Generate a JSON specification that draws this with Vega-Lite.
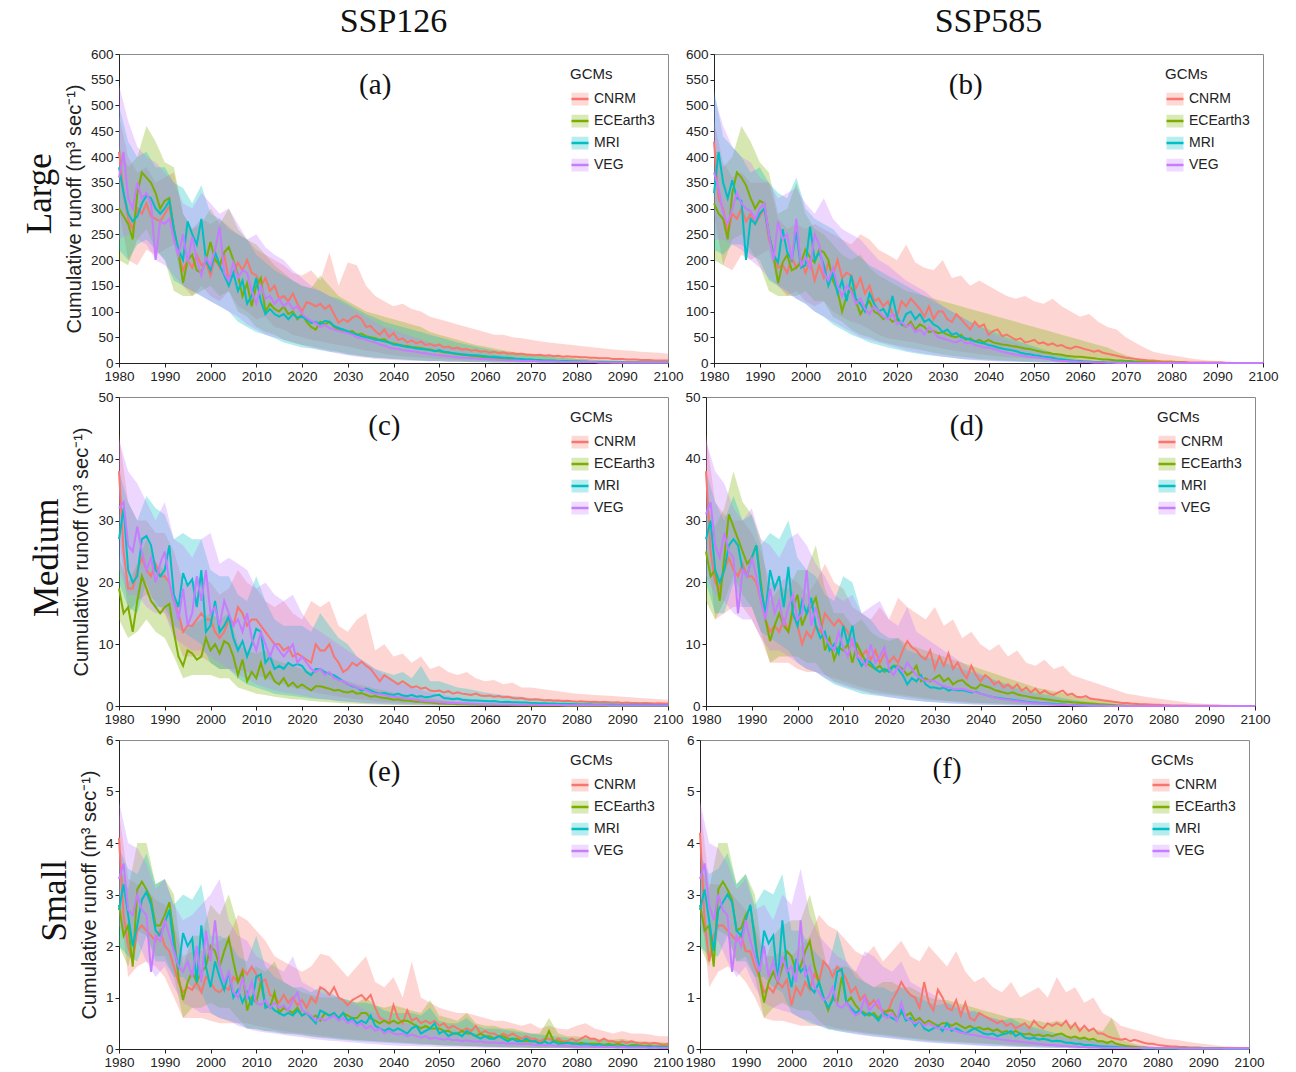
{
"$schema": "https://vega.github.io/schema/vega-lite/v6.json",
"padding": {"left": 22, "top": 4, "right": 4, "bottom": 2},
"datasets": {
"YL": [{"i":1,"y":1980},{"i":2,"y":1981},{"i":3,"y":1982},{"i":4,"y":1983},{"i":5,"y":1984},{"i":6,"y":1985},{"i":7,"y":1986},{"i":8,"y":1987},{"i":9,"y":1988},{"i":10,"y":1989},{"i":11,"y":1990},{"i":12,"y":1991},{"i":13,"y":1992},{"i":14,"y":1993},{"i":15,"y":1994},{"i":16,"y":1995},{"i":17,"y":1996},{"i":18,"y":1997},{"i":19,"y":1998},{"i":20,"y":1999},{"i":21,"y":2000},{"i":22,"y":2001},{"i":23,"y":2002},{"i":24,"y":2003},{"i":25,"y":2004},{"i":26,"y":2005},{"i":27,"y":2006},{"i":28,"y":2007},{"i":29,"y":2008},{"i":30,"y":2009},{"i":31,"y":2010},{"i":32,"y":2011},{"i":33,"y":2012},{"i":34,"y":2013},{"i":35,"y":2014},{"i":36,"y":2015},{"i":37,"y":2016},{"i":38,"y":2017},{"i":39,"y":2018},{"i":40,"y":2019},{"i":41,"y":2020},{"i":42,"y":2021},{"i":43,"y":2022},{"i":44,"y":2023},{"i":45,"y":2024},{"i":46,"y":2025},{"i":47,"y":2026},{"i":48,"y":2027},{"i":49,"y":2028},{"i":50,"y":2029},{"i":51,"y":2030},{"i":52,"y":2031},{"i":53,"y":2032},{"i":54,"y":2033},{"i":55,"y":2034},{"i":56,"y":2035},{"i":57,"y":2036},{"i":58,"y":2037},{"i":59,"y":2038},{"i":60,"y":2039},{"i":61,"y":2040},{"i":62,"y":2041},{"i":63,"y":2042},{"i":64,"y":2043},{"i":65,"y":2044},{"i":66,"y":2045},{"i":67,"y":2046},{"i":68,"y":2047},{"i":69,"y":2048},{"i":70,"y":2049},{"i":71,"y":2050},{"i":72,"y":2051},{"i":73,"y":2052},{"i":74,"y":2053},{"i":75,"y":2054},{"i":76,"y":2055},{"i":77,"y":2056},{"i":78,"y":2057},{"i":79,"y":2058},{"i":80,"y":2059},{"i":81,"y":2060},{"i":82,"y":2061},{"i":83,"y":2062},{"i":84,"y":2063},{"i":85,"y":2064},{"i":86,"y":2065},{"i":87,"y":2066},{"i":88,"y":2067},{"i":89,"y":2068},{"i":90,"y":2069},{"i":91,"y":2070},{"i":92,"y":2071},{"i":93,"y":2072},{"i":94,"y":2073},{"i":95,"y":2074},{"i":96,"y":2075},{"i":97,"y":2076},{"i":98,"y":2077},{"i":99,"y":2078},{"i":100,"y":2079},{"i":101,"y":2080},{"i":102,"y":2081},{"i":103,"y":2082},{"i":104,"y":2083},{"i":105,"y":2084},{"i":106,"y":2085},{"i":107,"y":2086},{"i":108,"y":2087},{"i":109,"y":2088},{"i":110,"y":2089},{"i":111,"y":2090},{"i":112,"y":2091},{"i":113,"y":2092},{"i":114,"y":2093},{"i":115,"y":2094},{"i":116,"y":2095},{"i":117,"y":2096},{"i":118,"y":2097},{"i":119,"y":2098},{"i":120,"y":2099},{"i":121,"y":2100}],
"YB": [{"i":1,"y":1980},{"i":2,"y":1982},{"i":3,"y":1984},{"i":4,"y":1986},{"i":5,"y":1988},{"i":6,"y":1990},{"i":7,"y":1992},{"i":8,"y":1994},{"i":9,"y":1996},{"i":10,"y":1998},{"i":11,"y":2000},{"i":12,"y":2002},{"i":13,"y":2004},{"i":14,"y":2006},{"i":15,"y":2008},{"i":16,"y":2010},{"i":17,"y":2012},{"i":18,"y":2014},{"i":19,"y":2016},{"i":20,"y":2018},{"i":21,"y":2020},{"i":22,"y":2022},{"i":23,"y":2024},{"i":24,"y":2026},{"i":25,"y":2028},{"i":26,"y":2030},{"i":27,"y":2032},{"i":28,"y":2034},{"i":29,"y":2036},{"i":30,"y":2038},{"i":31,"y":2040},{"i":32,"y":2042},{"i":33,"y":2044},{"i":34,"y":2046},{"i":35,"y":2048},{"i":36,"y":2050},{"i":37,"y":2052},{"i":38,"y":2054},{"i":39,"y":2056},{"i":40,"y":2058},{"i":41,"y":2060},{"i":42,"y":2062},{"i":43,"y":2064},{"i":44,"y":2066},{"i":45,"y":2068},{"i":46,"y":2070},{"i":47,"y":2072},{"i":48,"y":2074},{"i":49,"y":2076},{"i":50,"y":2078},{"i":51,"y":2080},{"i":52,"y":2082},{"i":53,"y":2084},{"i":54,"y":2086},{"i":55,"y":2088},{"i":56,"y":2090},{"i":57,"y":2092},{"i":58,"y":2094},{"i":59,"y":2096},{"i":60,"y":2098},{"i":61,"y":2100}],
"L": [
{"p":"a","g":"CNRM","v":[410,330,280,260,300,290,310,285,280,275,290,305,250,210,180,200,185,210,190,195,170,205,185,210,160,175,195,180,200,175,170,150,165,140,150,125,130,120,135,115,100,118,115,110,115,105,112,95,78,85,80,88,92,85,70,72,62,55,65,50,58,45,48,40,44,38,42,35,37,33,36,30,32,28,30,26,27,24,25,22,23,20,22,19,21,18,19,17,18,16,16,15,16,14,15,13,14,12,13,12,12,11,11,10,10,9,9,9,8,8,8,7,7,7,6,6,6,5,5,5,5]},
{"p":"a","g":"ECEarth3","v":[300,285,270,240,330,370,360,350,330,300,315,320,260,215,155,200,210,180,175,200,235,200,190,215,225,200,170,130,155,110,150,165,100,115,105,100,110,95,100,85,95,80,70,65,80,75,80,70,65,63,60,62,55,57,52,50,48,45,46,40,38,36,34,33,31,30,29,27,26,24,23,21,20,19,17,16,15,14,13,12,11,10,10,9,8,8,7,7,6,6,5,5,5,4,4,4,3,3,3,3,3,2,2,2,2,2,2,2,1,1,1,1,1,1,1,1,1,1,1,1,1]},
{"p":"a","g":"MRI","v":[380,330,290,275,285,310,325,320,300,290,300,315,260,220,200,275,250,230,280,200,180,215,190,170,150,175,140,160,115,130,165,120,95,105,95,90,95,85,95,88,90,85,78,80,75,82,80,72,68,65,62,58,55,52,50,48,45,44,42,40,36,35,33,31,30,28,27,26,25,23,25,22,21,19,18,17,16,15,15,14,13,12,12,11,10,10,9,8,8,7,7,6,6,5,5,5,4,4,4,3,3,3,3,2,2,2,2,2,2,2,2,1,1,1,1,1,1,1,1,1,1]},
{"p":"a","g":"VEG","v":[360,410,320,300,350,320,330,310,200,275,270,280,240,210,250,195,245,200,170,205,190,220,265,175,160,195,165,180,175,140,115,150,125,130,115,125,110,118,105,110,95,88,82,78,70,74,68,65,62,60,58,55,50,48,45,42,40,36,34,30,28,27,25,24,23,22,20,19,17,16,15,14,13,12,11,10,10,9,9,8,8,7,7,6,6,5,5,5,4,4,4,4,3,3,3,3,3,2,2,2,2,2,2,2,2,1,1,1,1,1,1,1,1,1,1,1,1,1,1,1,1]},
{"p":"b","g":"CNRM","v":[430,320,300,250,290,280,300,275,290,270,285,300,240,215,185,190,175,205,185,200,175,200,160,190,165,195,170,200,165,175,170,145,165,135,150,120,125,110,120,95,90,120,110,125,115,105,90,110,85,100,100,85,80,95,85,75,65,80,70,75,55,62,65,52,55,50,45,48,40,42,45,38,40,35,38,33,35,30,28,32,30,27,25,22,24,20,18,16,14,12,10,9,8,7,6,5,5,4,3,3,3,2,2,2,1,1,1,1,1,1,1,1,0,0,0,0,0,0,0,0,0]},
{"p":"b","g":"ECEarth3","v":[310,290,280,240,330,370,360,345,320,300,315,310,250,210,155,195,210,180,185,195,220,205,195,220,215,200,160,140,100,130,145,120,95,110,120,100,95,85,90,80,85,75,70,80,65,75,70,60,62,58,60,55,52,50,55,45,48,42,45,40,45,40,38,36,35,33,32,30,28,27,25,23,21,20,18,17,16,14,13,12,12,11,10,9,8,7,7,6,5,5,4,4,3,3,2,2,2,1,1,1,1,1,1,0,0,0,0,0,0,0,0,0,0,0,0,0,0,0,0,0,0]},
{"p":"b","g":"MRI","v":[330,410,350,320,355,320,315,200,280,270,290,300,250,210,195,260,215,200,255,185,190,265,200,215,190,150,175,135,160,120,170,125,115,100,135,115,100,105,90,130,90,75,95,100,85,95,80,85,75,70,60,65,55,58,50,48,45,42,40,38,35,33,30,28,26,25,23,20,18,17,15,14,12,11,10,8,7,6,5,4,4,3,3,2,2,2,1,1,1,1,1,1,1,0,0,0,0,0,0,0,0,0,0,0,0,0,0,0,0,0,0,0,0,0,0,0,0,0,0,0,0]},
{"p":"b","g":"VEG","v":[370,340,290,270,300,330,310,300,295,280,300,310,250,200,275,240,250,200,280,190,205,185,250,230,175,160,185,150,130,150,140,115,125,105,95,110,100,90,85,95,75,80,70,75,60,65,55,70,60,50,48,45,42,40,45,38,40,35,33,30,30,27,25,22,20,18,16,15,13,12,11,10,9,8,6,5,4,4,3,3,2,2,2,1,1,1,1,1,0,0,0,0,0,0,0,0,0,0,0,0,0,0,0,0,0,0,0,0,0,0,0,0,0,0,0,0,0,0,0,0,0]},
{"p":"c","g":"CNRM","v":[38,25,19,19,22,24,22,21,23,21,21,20,17,15,12,13,13,14,15,14,14,12,11,12,14,13,16,15,13,14,14,13,12,11,10,10,9,9.5,8,8.5,8,7.5,7,10,9,9,10,8,7,5.5,6,7,6.5,7.2,6.5,6,5,4,5,4.5,4,3.5,4,3.5,3,3.2,2.8,3,2.5,2.4,2.5,2.2,2.4,2,2.2,2,1.9,1.8,2,1.7,1.6,1.7,1.5,1.6,1.4,1.5,1.3,1.2,1.3,1.1,1,1.1,1,0.9,0.95,0.85,0.9,0.8,0.85,0.75,0.7,0.75,0.7,0.65,0.7,0.6,0.65,0.6,0.55,0.6,0.5,0.55,0.5,0.5,0.45,0.5,0.45,0.4,0.45,0.4,0.4]},
{"p":"c","g":"ECEarth3","v":[19,15,16,12,17,21,19,17,16,15,16,16.5,12,8,6.5,9,8.5,7.5,8,11,9,10,8.5,10.5,10,8,5,7.5,4,5.5,4.5,7,4.5,5.5,4,3.5,4.5,3.2,3.8,3,3.5,3,2.5,3.2,3.2,3,2.8,2.5,2.6,2.3,2.2,2.4,2,2.1,1.8,1.5,1.6,1.4,1.3,1.2,1,1.1,0.9,0.9,0.8,0.7,0.7,0.6,0.55,0.5,0.4,0.4,0.35,0.35,0.3,0.3,0.28,0.25,0.24,0.22,0.2,0.2,0.18,0.17,0.16,0.15,0.14,0.13,0.12,0.11,0.1,0.1,0.09,0.09,0.08,0.08,0.07,0.07,0.06,0.06,0.06,0.05,0.05,0.05,0.05,0.04,0.04,0.04,0.04,0.04,0.03,0.03,0.03,0.03,0.03,0.03,0.03,0.03,0.03,0.03,0.03]},
{"p":"c","g":"MRI","v":[27,32,22,20,21,27,27.5,26,22,21,22,26,18,16,21.5,19.5,20.5,16,22,12,13,17,12,13,14.5,11,9,10.5,8,10,12.5,12,7,8,6,6.5,6,7,6.5,6.8,6.5,5.5,5,6,6,5.5,5.2,5,4.5,4,3.5,3.2,3,2.5,2.8,2.5,2.2,2,2.1,1.9,1.8,2,1.7,1.6,1.8,1.5,1.6,1.4,1.5,1.7,1.8,1.3,1.2,1.1,1.2,1,0.95,0.9,0.9,0.85,0.8,0.75,0.8,0.7,0.65,0.7,0.6,0.6,0.55,0.55,0.5,0.5,0.45,0.45,0.4,0.42,0.38,0.36,0.35,0.33,0.3,0.3,0.28,0.28,0.26,0.26,0.25,0.24,0.23,0.22,0.22,0.21,0.2,0.2,0.2,0.19,0.19,0.18,0.18,0.18,0.17]},
{"p":"c","g":"VEG","v":[32,33,26,25,29,25,22,24,20,23,25,20,17,14,19,13,15,21,17,22,15,16,13,17,15,13,14,12,15,11,9,12,10,8,10,9,8,9,10,7,8,7,6,5.5,6,5,5.5,4.5,4.2,4,3.5,3.3,3,2.8,2.6,2.2,2,1.9,1.8,1.6,1.5,1.4,1.3,1.2,1.1,1,0.9,0.8,0.75,0.7,0.6,0.55,0.5,0.48,0.45,0.42,0.4,0.38,0.35,0.33,0.3,0.28,0.27,0.26,0.25,0.24,0.23,0.22,0.21,0.2,0.2,0.19,0.18,0.17,0.16,0.15,0.15,0.14,0.14,0.13,0.13,0.12,0.12,0.12,0.11,0.11,0.11,0.1,0.1,0.1,0.1,0.1,0.1,0.1,0.1,0.1,0.1,0.1,0.1,0.1,0.1]},
{"p":"d","g":"CNRM","v":[38,25,20,19,22,24,22,21,23,21,21,20,17,14,12,13,12,14,12,15,13,10,12,11,13,12,15,14,13,14,13,12,10,9,8,9,7.5,9,7,8.5,7,8,7,9,10.5,9.5,9,8,7.5,9,6,8,6.5,8.5,6,7,5.5,4.5,6.5,5,4,5,4.5,3.5,4,3,3.5,2.8,3.5,2.5,3,2.2,2.8,2,2.5,2,1.8,2.2,2.5,1.8,2,1.5,1.4,1.6,1.2,1.1,1,0.9,0.8,0.7,0.6,0.5,0.5,0.4,0.35,0.3,0.3,0.25,0.2,0.2,0.15,0.12,0.1,0.1,0.08,0.07,0.06,0.05,0.05,0.04,0.03,0.03,0.03,0.02,0.02,0.02,0.02,0.02,0.02,0.02,0.01]},
{"p":"d","g":"ECEarth3","v":[25,21,22,17,24,31,29,27,25,23,24,26,20,14,10.5,13,15,13,12,16,18,13,15,16,17.5,14,9,11,7.5,9.5,9,10,7,10,8.5,7,6.5,6,6.5,5.5,6,6.5,6.5,6,5,5.5,6.5,4,4.5,4,4.5,5,4,4.5,3.5,4,4.2,3.5,3,2.8,3.5,3.2,3,2.6,2.4,2.2,2,2.2,1.9,1.7,1.6,1.4,1.3,1.2,1.1,1,0.9,0.8,0.7,0.7,0.6,0.55,0.5,0.45,0.4,0.35,0.3,0.25,0.2,0.15,0.1,0.08,0.06,0.05,0.04,0.03,0.02,0.02,0.01,0.01,0,0,0,0,0,0,0,0,0,0,0,0,0,0,0,0,0,0,0,0,0]},
{"p":"d","g":"MRI","v":[27,30,22,20,22,26,27,26,22,21,24,26,19,15,22,19,21,16,22.5,15,13,17,15,17.5,13,11,12,9,10,8.5,13,10,13,8,6.5,7.5,7,6,5.5,6,5.5,6.5,6,5,3.5,4.5,4,5,3.5,3,3,2.8,3,2.5,2.7,2.5,2.6,2.4,2.2,2.3,2,1.8,1.6,1.4,1.3,1.2,1.1,1,0.9,0.8,0.7,0.6,0.55,0.5,0.45,0.4,0.35,0.3,0.25,0.2,0.18,0.15,0.12,0.1,0.08,0.07,0.06,0.05,0.04,0.03,0.02,0.01,0.01,0.01,0,0,0,0,0,0,0,0,0,0,0,0,0,0,0,0,0,0,0,0,0,0,0,0,0,0,0]},
{"p":"d","g":"VEG","v":[31,33,26,24,28,25,24,15,22,21,24,21,17,14,19,15,17,13,16,18,14,15,22,13,16,13,11,10,9,12,9.5,8,11,8,7.5,6.5,10,7,8,9.5,6,5,6.5,5.5,7,6,5,4.5,4,4.2,4,3.5,3.2,3,2.8,2.7,2.8,2.6,2.4,2.2,2,1.8,1.6,1.4,1.2,1.1,1,0.9,0.8,0.7,0.6,0.5,0.45,0.4,0.35,0.3,0.25,0.2,0.18,0.15,0.12,0.1,0.08,0.07,0.06,0.05,0.04,0.03,0.02,0.02,0.01,0.01,0.01,0.01,0.01,0.01,0.01,0.01,0.01,0.01,0.01,0.01,0.01,0.01,0.01,0,0,0,0,0,0,0,0,0,0,0,0,0,0,0,0]},
{"p":"e","g":"CNRM","v":[4.1,2.6,2,1.7,2.3,2.4,2.3,2.2,2.1,2.3,2,1.9,1.6,1.3,1.1,1.2,1.15,1.3,1.1,1.4,1.3,1.15,1.1,1.2,1.15,1.4,1.3,1.55,1.45,1.6,1.45,1.3,1.35,1.05,1,0.9,1.05,0.9,1,0.85,0.95,0.8,1,0.9,1.2,1.15,1.05,1.2,1,0.95,0.85,0.95,1,1.05,0.95,1.05,0.8,0.6,0.55,0.5,0.85,0.6,0.5,0.75,0.55,0.6,0.5,0.55,0.5,0.55,0.45,0.5,0.4,0.45,0.4,0.35,0.4,0.35,0.45,0.3,0.35,0.3,0.3,0.25,0.3,0.25,0.3,0.25,0.2,0.25,0.2,0.2,0.15,0.2,0.2,0.15,0.2,0.15,0.15,0.2,0.15,0.2,0.25,0.2,0.2,0.15,0.2,0.15,0.15,0.12,0.15,0.12,0.15,0.12,0.1,0.12,0.1,0.12,0.1,0.08,0.1]},
{"p":"e","g":"ECEarth3","v":[2.8,2.2,2.4,1.6,3.1,3.25,3.1,2.9,2.4,2.4,2.6,2.85,2.2,1.4,0.95,1.3,1.5,1.3,1.5,1.6,2,1.9,1.6,1.9,2.15,1.7,1.3,1.5,0.75,1,0.9,1.3,0.85,0.8,1.1,0.7,0.8,0.75,0.7,0.8,0.65,0.7,0.6,0.65,0.55,0.7,0.65,0.7,0.6,0.7,0.65,0.6,0.6,0.7,0.7,0.6,0.55,0.5,0.55,0.5,0.55,0.5,0.55,0.55,0.5,0.45,0.4,0.45,0.4,0.4,0.4,0.35,0.35,0.3,0.3,0.35,0.3,0.3,0.25,0.3,0.25,0.25,0.2,0.25,0.25,0.2,0.2,0.2,0.15,0.15,0.15,0.15,0.1,0.15,0.35,0.15,0.15,0.12,0.12,0.12,0.1,0.12,0.1,0.1,0.1,0.1,0.08,0.1,0.08,0.1,0.08,0.05,0.08,0.08,0.06,0.06,0.06,0.05,0.05,0.05,0.05]},
{"p":"e","g":"MRI","v":[2.7,3.2,2.6,2,2.4,2.9,3.05,2.8,2.3,2.2,2.45,2.7,2,1.55,2.25,2,2.15,1.3,2.4,1.6,1.2,1.7,1.4,1.15,1.5,1,1.15,0.9,1.1,0.85,1.4,1.45,0.8,0.85,0.75,0.7,0.65,0.7,0.65,0.75,0.65,0.7,0.6,0.5,0.75,0.7,0.65,0.7,0.6,0.7,0.55,0.6,0.5,0.55,0.5,0.65,0.45,0.4,0.35,0.4,0.35,0.4,0.35,0.3,0.4,0.45,0.3,0.35,0.4,0.5,0.3,0.35,0.25,0.3,0.3,0.25,0.35,0.3,0.25,0.2,0.25,0.2,0.2,0.25,0.2,0.15,0.2,0.15,0.15,0.2,0.15,0.15,0.1,0.15,0.1,0.15,0.1,0.1,0.12,0.1,0.1,0.08,0.1,0.08,0.07,0.08,0.06,0.07,0.06,0.05,0.06,0.05,0.05,0.06,0.05,0.04,0.05,0.04,0.04,0.03,0.04]},
{"p":"e","g":"VEG","v":[3.3,3.6,2.7,2.6,3,2.7,2.6,1.5,2.2,2.1,2.5,2.2,1.9,1.6,1.5,1.7,1.4,2,1.3,2.3,1.7,2.5,1.6,1.3,1.5,1.1,1,1.4,1,1.3,0.9,0.85,0.95,0.8,0.9,0.8,0.85,0.75,0.95,1.1,0.75,0.7,0.65,0.55,0.6,0.55,0.6,0.65,0.55,0.6,0.5,0.55,0.45,0.5,0.4,0.45,0.35,0.4,0.3,0.35,0.3,0.28,0.3,0.25,0.28,0.25,0.22,0.25,0.2,0.22,0.2,0.18,0.2,0.17,0.18,0.15,0.17,0.15,0.14,0.15,0.13,0.12,0.13,0.11,0.12,0.1,0.11,0.1,0.09,0.1,0.09,0.08,0.08,0.07,0.08,0.07,0.06,0.07,0.06,0.06,0.05,0.05,0.06,0.05,0.04,0.05,0.04,0.04,0.04,0.03,0.04,0.03,0.03,0.03,0.03,0.03,0.02,0.03,0.02,0.02,0.02]},
{"p":"f","g":"CNRM","v":[4.2,2.5,1.7,2.2,2.4,2.4,2.3,2.2,2.1,2.2,1.9,1.9,1.6,1.4,1.1,1.2,1.1,1.3,1.2,1.35,0.85,1.2,1.05,1.3,1.15,1.45,1.3,1.7,1.6,1.4,1.6,1.5,1.35,1.1,1.2,0.95,1.05,0.85,0.95,0.8,0.75,0.7,0.95,1.1,1.3,1.15,1.05,1,0.8,1.3,0.9,0.75,1.15,1,0.8,0.75,0.95,0.65,0.9,0.6,0.55,0.7,0.65,0.6,0.55,0.5,0.55,0.45,0.5,0.4,0.45,0.5,0.4,0.55,0.45,0.4,0.5,0.45,0.5,0.45,0.55,0.4,0.5,0.35,0.45,0.35,0.4,0.3,0.3,0.25,0.22,0.2,0.18,0.2,0.15,0.18,0.15,0.12,0.1,0.1,0.08,0.07,0.06,0.05,0.05,0.04,0.04,0.03,0.03,0.03,0.02,0.02,0.02,0.02,0.02,0.02,0.02,0.02,0.02,0.02,0.02]},
{"p":"f","g":"ECEarth3","v":[2.8,2.3,2.4,1.6,3.1,3.25,3.1,2.9,2.3,2.35,2.6,2.75,2.2,1.4,0.9,1.3,1.5,1.3,1.6,1.9,1.8,1.5,1.6,1.9,2.1,1.6,1.3,1,0.75,1,0.9,1.4,0.9,1,0.85,0.75,0.7,0.65,0.7,0.6,0.7,0.75,0.75,0.6,0.7,0.65,0.7,0.55,0.6,0.5,0.55,0.5,0.45,0.5,0.5,0.45,0.5,0.45,0.4,0.45,0.4,0.42,0.38,0.4,0.35,0.38,0.32,0.35,0.3,0.35,0.3,0.28,0.3,0.26,0.28,0.25,0.27,0.25,0.28,0.3,0.25,0.22,0.24,0.2,0.22,0.18,0.2,0.15,0.15,0.12,0.15,0.1,0.08,0.06,0.05,0.04,0.03,0.03,0.02,0.02,0.01,0.01,0.01,0.01,0.01,0.01,0.01,0.01,0.01,0.01,0.01,0.01,0.01,0.01,0.01,0,0,0,0,0,0]},
{"p":"f","g":"MRI","v":[2.7,3.1,2.5,1.9,2.7,2.85,3,2.85,2.3,2.2,2.5,2.8,2.1,1.5,2.3,2.05,2.2,1.3,2.5,1.6,1.2,1.75,1.5,1.6,1.2,1.1,1.3,1,0.8,0.95,1.5,1.55,0.9,0.8,0.7,0.75,0.65,0.7,0.65,0.55,0.7,0.65,0.6,0.55,0.75,0.55,0.6,0.45,0.55,0.4,0.35,0.4,0.45,0.35,0.5,0.35,0.4,0.35,0.3,0.35,0.4,0.35,0.3,0.28,0.3,0.25,0.28,0.3,0.35,0.25,0.3,0.22,0.2,0.22,0.18,0.2,0.18,0.15,0.16,0.15,0.12,0.12,0.1,0.1,0.08,0.08,0.07,0.06,0.05,0.05,0.04,0.04,0.03,0.03,0.02,0.02,0.02,0.01,0.01,0.01,0.01,0.01,0.01,0.01,0.01,0.01,0.01,0.01,0.01,0.01,0.01,0.01,0.01,0.01,0.01,0,0,0,0,0,0]},
{"p":"f","g":"VEG","v":[3.3,3.6,2.8,2.5,3,2.7,2.6,1.5,2.2,2,2.5,2.1,1.8,1.5,2,1.4,1.7,1.3,1.8,1.5,1.6,1.3,2.5,1.4,1.6,1.2,1.1,0.95,1,1.2,0.85,0.8,0.9,0.75,0.65,0.7,1,0.75,0.85,0.95,0.65,0.6,0.7,0.55,0.9,0.6,0.55,0.5,0.55,0.45,0.5,0.45,0.4,0.42,0.38,0.4,0.35,0.32,0.3,0.28,0.27,0.25,0.24,0.22,0.2,0.2,0.18,0.17,0.16,0.15,0.14,0.13,0.12,0.11,0.1,0.09,0.08,0.08,0.07,0.06,0.06,0.05,0.05,0.04,0.04,0.03,0.03,0.03,0.02,0.02,0.02,0.02,0.02,0.02,0.02,0.02,0.02,0.02,0.02,0.02,0.02,0.02,0.02,0.02,0.02,0.01,0.01,0.01,0.01,0.01,0.01,0.01,0.01,0.01,0.01,0.01,0.01,0.01,0.01,0.01,0.01]}
],
"B": [
{"p":"a","g":"CNRM","l":[300,200,190,220,210,220,230,150,130,150,130,120,140,110,100,85,90,70,65,55,50,45,42,38,35,32,28,24,22,18,15,13,12,10,9,8,7,6,5,5,4,4,3,3,3,2,2,2,2,1,1,1,1,1,1,1,1,1,1,0,0],"h":[480,400,370,380,350,360,370,290,260,280,270,280,265,250,240,220,210,200,190,175,170,180,160,215,150,195,190,150,130,120,110,115,105,100,90,85,80,75,70,65,60,55,55,50,48,45,42,40,38,36,34,32,30,28,26,25,24,22,21,20,18]},
{"p":"a","g":"ECEarth3","l":[200,190,240,260,220,200,140,130,130,140,150,130,140,100,90,70,60,55,45,40,35,32,28,25,22,18,15,12,10,9,8,7,6,5,4,4,3,3,2,2,2,1,1,1,1,1,1,0,0,0,0,0,0,0,0,0,0,0,0,0,0],"h":[420,380,400,460,430,390,380,290,260,270,300,270,300,260,240,230,210,190,175,160,150,145,170,150,130,120,110,100,95,90,85,80,75,70,60,55,50,45,40,35,32,28,25,22,20,18,16,14,12,10,9,8,7,6,5,5,4,4,3,3,3]},
{"p":"a","g":"MRI","l":[220,200,230,240,220,200,160,150,140,130,120,110,100,80,70,60,55,48,40,35,30,28,25,22,20,16,14,12,10,9,8,7,6,5,4,4,3,3,2,2,2,1,1,1,1,1,1,0,0,0,0,0,0,0,0,0,0,0,0,0,0],"h":[500,430,400,410,380,380,350,340,310,345,290,280,260,250,240,210,195,180,170,160,150,145,140,130,125,115,105,95,88,80,75,70,65,60,55,50,45,40,36,32,28,25,22,20,18,16,14,12,10,9,8,7,6,5,5,4,4,3,3,3,2]},
{"p":"a","g":"VEG","l":[240,250,240,230,200,190,170,150,140,130,120,110,100,90,75,65,55,50,45,40,35,30,26,22,18,15,12,10,8,7,6,5,4,4,3,3,2,2,2,1,1,1,1,1,0,0,0,0,0,0,0,0,0,0,0,0,0,0,0,0,0],"h":[540,470,420,400,390,370,350,310,300,330,310,290,300,270,240,250,225,210,200,180,165,150,140,130,120,110,100,90,80,70,65,58,52,46,40,36,32,28,24,20,18,16,14,12,10,9,8,7,6,5,5,4,4,3,3,3,2,2,2,2,2]},
{"p":"b","g":"CNRM","l":[290,190,180,210,200,210,220,150,130,140,120,110,120,100,90,80,75,65,55,48,45,42,40,35,32,28,25,22,20,17,15,13,11,10,9,8,7,6,5,4,3,3,2,2,1,1,1,0,0,0,0,0,0,0,0,0,0,0,0,0,0],"h":[470,390,360,370,350,350,350,280,260,270,260,270,260,250,240,230,250,240,220,210,200,230,195,185,180,200,165,170,150,160,150,140,130,125,130,120,115,125,110,100,90,95,80,70,65,50,40,30,22,18,15,12,9,7,5,4,3,2,1,1,1]},
{"p":"b","g":"ECEarth3","l":[200,190,240,250,220,190,140,130,130,130,140,120,120,90,80,65,55,50,42,38,34,30,27,24,20,17,14,12,10,8,7,6,5,4,3,3,2,2,1,1,1,1,0,0,0,0,0,0,0,0,0,0,0,0,0,0,0,0,0,0,0],"h":[420,380,400,460,430,390,370,290,300,350,290,260,250,230,210,200,210,185,170,160,150,140,135,130,125,120,115,110,105,100,95,90,85,80,75,70,65,60,55,50,45,40,35,30,22,15,10,6,4,2,1,1,0,0,0,0,0,0,0,0,0]},
{"p":"b","g":"MRI","l":[220,210,230,230,210,200,160,150,140,125,115,100,90,75,65,55,48,40,35,30,26,22,19,16,14,12,10,8,7,6,5,4,3,3,2,2,1,1,1,0,0,0,0,0,0,0,0,0,0,0,0,0,0,0,0,0,0,0,0,0,0],"h":[530,440,420,400,370,380,350,330,320,360,300,280,270,260,240,220,205,190,180,170,160,150,140,130,120,110,100,90,80,72,65,58,50,44,38,32,26,20,15,10,7,5,3,2,1,1,0,0,0,0,0,0,0,0,0,0,0,0,0,0,0]},
{"p":"b","g":"VEG","l":[240,240,230,220,200,185,165,150,135,125,115,100,90,80,70,60,50,45,40,35,30,25,21,18,15,12,10,8,6,5,4,3,3,2,2,1,1,1,0,0,0,0,0,0,0,0,0,0,0,0,0,0,0,0,0,0,0,0,0,0,0],"h":[520,460,420,400,390,360,350,320,330,340,310,290,320,280,260,250,240,220,200,190,175,160,150,140,125,110,100,90,80,70,60,52,45,38,32,26,20,15,10,7,5,3,2,1,1,0,0,0,0,0,0,0,0,0,0,0,0,0,0,0,0]},
{"p":"c","g":"CNRM","l":[28,15,17,18,17,15,12,8,8,8,7,6,6,6,5.5,5,4.5,4,3.5,3,2.7,2.4,2,1.8,1.5,1.3,1.1,1,0.8,0.7,0.6,0.5,0.4,0.4,0.3,0.3,0.25,0.2,0.2,0.15,0.1,0.1,0.1,0.1,0.08,0.08,0.06,0.06,0.05,0.05,0.04,0.04,0.04,0.03,0.03,0.03,0.03,0.02,0.02,0.02,0.02],"h":[44,33,30,30,28,28,25,20,20,21,20,18,19,22,20,19,17,16,17,15,14,17,16,17,13,12,14,15,9,10,8,8.5,7,8,6,6.5,5.5,5,5.5,4.5,4,4.2,3.5,3.8,3,3,2.8,2.6,2.4,2.2,2,1.9,1.8,1.7,1.6,1.5,1.4,1.3,1.2,1.1,1]},
{"p":"c","g":"ECEarth3","l":[14,11,12,14,12,11,8,4.5,5,5,5,4.5,4.5,3,2.5,2,1.8,1.5,1.3,1.1,1,0.8,0.7,0.6,0.5,0.4,0.35,0.3,0.25,0.2,0.15,0.12,0.1,0.08,0.06,0.05,0.04,0.03,0.02,0.02,0.01,0.01,0.01,0.01,0.01,0.01,0.01,0.01,0.01,0.01,0,0,0,0,0,0,0,0,0,0,0],"h":[24,20,23,27,23,22,17,12,13,14,15,14,15,10,9,8.5,9,7.5,7,6.5,6,5.5,6,5,4.5,4,3.5,3.2,2.8,2.5,2.2,1.9,1.6,1.4,1.2,1,0.8,0.7,0.6,0.5,0.4,0.35,0.3,0.25,0.2,0.18,0.15,0.12,0.1,0.08,0.07,0.07,0.06,0.06,0.06,0.05,0.05,0.05,0.05,0.05,0.05]},
{"p":"c","g":"MRI","l":[20,16,15,20,16,16,13,12,11,10,7,6,6,4.5,3.5,3,2.5,2,1.8,1.6,1.4,1.2,1.1,1,0.8,0.7,0.6,0.5,0.45,0.4,0.35,0.3,0.27,0.24,0.2,0.18,0.16,0.14,0.12,0.1,0.09,0.08,0.07,0.06,0.05,0.05,0.04,0.04,0.03,0.03,0.02,0.02,0.02,0.02,0.02,0.02,0.02,0.02,0.02,0.02,0.02],"h":[38,33,30,34,32,31,27,28,27,27,22,21,21,18,17,21,17,14,13,13,13,12,15,13,11,10,8,7,6,5.5,5,5.5,4.5,6.5,4,4,3.5,3,2.8,2.5,2.2,2,1.8,1.6,1.5,1.3,1.2,1.1,1,0.9,0.8,0.75,0.7,0.65,0.6,0.55,0.5,0.45,0.42,0.4,0.38]},
{"p":"c","g":"VEG","l":[22,18,18,16,15,15,11,10,9,9,8,7,6,5,4.5,3.5,3,2.5,2.2,2,1.7,1.4,1.2,1,0.8,0.7,0.55,0.45,0.35,0.3,0.25,0.2,0.17,0.14,0.12,0.1,0.08,0.07,0.06,0.05,0.04,0.04,0.03,0.03,0.03,0.02,0.02,0.02,0.02,0.02,0.01,0.01,0.01,0.01,0.01,0.01,0.01,0.01,0.01,0.01,0.01],"h":[43,38,36,33,30,33,27,26,24,27,28,23,24,23,22,19,20,18,17,18,15,13,12,11,10,9,8,7,6,5,4.2,3.6,3,2.6,2.2,1.9,1.6,1.4,1.2,1,0.9,0.8,0.7,0.6,0.55,0.5,0.45,0.4,0.35,0.3,0.28,0.26,0.24,0.22,0.2,0.18,0.17,0.16,0.15,0.14,0.13]},
{"p":"d","g":"CNRM","l":[28,14,15,16,16,14,11,7,7,7,6,5.5,5.5,5,4.5,4,3.5,3,2.7,2.4,2.1,1.9,1.7,1.5,1.3,1.1,0.9,0.8,0.7,0.6,0.5,0.45,0.4,0.35,0.3,0.25,0.2,0.18,0.15,0.12,0.1,0.08,0.06,0.05,0.04,0.03,0.02,0.02,0.01,0.01,0,0,0,0,0,0,0,0,0,0,0],"h":[44,33,31,30,30,28,25,20,20,21,20,18,20,23,20,19,16,15,14,16,14,17.5,16,15,14,16,13,14,11,12,10,9,10,8,9,7,6.5,7.5,6,6.5,5,4.5,4,3.5,3,2.5,2,1.8,1.5,1.3,1.1,0.9,0.7,0.5,0.4,0.3,0.25,0.2,0.15,0.1,0.1]},
{"p":"d","g":"ECEarth3","l":[17,14,17,21,18,16,12,7,8,8,8,7,7,5,4,3.5,3,2.6,2.2,2,1.8,1.6,1.4,1.2,1,0.9,0.8,0.7,0.6,0.5,0.45,0.4,0.35,0.3,0.25,0.2,0.15,0.12,0.1,0.08,0.06,0.05,0.04,0.03,0.02,0.01,0.01,0,0,0,0,0,0,0,0,0,0,0,0,0,0],"h":[33,29,32,38,33,31,27,17,19,19,22,22,26,19,15,15,13,14,12,11,10.5,11,10,9.5,9,8.5,8,7.5,7,6.5,6,5.5,5,4.5,4,3.5,3,2.7,2.4,2.1,1.8,1.5,1.2,1,0.8,0.6,0.45,0.3,0.2,0.15,0.1,0.08,0.06,0.05,0.04,0.03,0.02,0.02,0.01,0.01,0.01]},
{"p":"d","g":"MRI","l":[20,15,15,20,16,16,12,11,10,9,7,6,5.5,4.5,3.5,3,2.5,2,1.8,1.6,1.4,1.2,1,0.85,0.7,0.6,0.5,0.42,0.35,0.3,0.25,0.2,0.16,0.13,0.1,0.08,0.06,0.05,0.04,0.03,0.02,0.02,0.01,0.01,0,0,0,0,0,0,0,0,0,0,0,0,0,0,0,0,0],"h":[38,33,30,34,30,31,26,28,27,30,24,22,21,18,17,21,20,15,14,12,11,11,9,8.5,8,7.5,7,6.5,6,5.5,5,4.5,4,3.5,3,2.6,2.2,1.9,1.6,1.3,1,0.8,0.6,0.45,0.35,0.25,0.18,0.12,0.08,0.05,0.03,0.02,0.01,0.01,0,0,0,0,0,0,0]},
{"p":"d","g":"VEG","l":[21,18,17,15,14,14,11,9,9,8,7,6,5.5,4.5,3.8,3.2,2.8,2.4,2,1.7,1.4,1.2,1,0.85,0.7,0.6,0.5,0.4,0.32,0.26,0.2,0.16,0.13,0.1,0.08,0.06,0.05,0.04,0.03,0.02,0.02,0.01,0.01,0,0,0,0,0,0,0,0,0,0,0,0,0,0,0,0,0,0],"h":[43,38,36,32,30,32,27,26,24,27,28,26,23,21,18,17,18,15,16,17,14,13,16,12,11,10,9,8,7,6,5.2,4.5,3.8,3.2,2.7,2.2,1.8,1.5,1.2,1,0.8,0.65,0.5,0.4,0.3,0.24,0.18,0.14,0.1,0.08,0.06,0.05,0.04,0.03,0.02,0.02,0.01,0.01,0.01,0.01,0.01]},
{"p":"e","g":"CNRM","l":[3,1.4,1.6,1.7,1.6,1.4,1,0.6,0.6,0.6,0.55,0.5,0.5,0.5,0.5,0.45,0.42,0.38,0.35,0.32,0.3,0.28,0.26,0.24,0.22,0.2,0.18,0.17,0.15,0.14,0.13,0.12,0.11,0.1,0.09,0.08,0.08,0.07,0.06,0.06,0.05,0.05,0.04,0.04,0.04,0.03,0.03,0.03,0.03,0.02,0.02,0.02,0.02,0.02,0.02,0.02,0.02,0.02,0.02,0.02,0.02],"h":[4.6,3.3,3.2,3.1,2.9,2.8,2.4,1.8,1.9,1.9,2,2.1,2.2,2.6,2.5,2.3,2.1,1.8,1.7,1.6,1.5,1.6,1.85,1.8,1.6,1.4,1.6,1.8,1.3,1.2,1.4,1,1.7,1,0.9,0.8,0.75,0.7,0.7,0.65,0.6,0.55,0.55,0.5,0.45,0.5,0.4,0.45,0.4,0.38,0.45,0.5,0.4,0.35,0.3,0.35,0.3,0.3,0.28,0.25,0.25]},
{"p":"e","g":"ECEarth3","l":[2,1.6,2.3,2.2,1.8,1.8,1.4,0.6,0.8,0.8,0.9,0.8,0.8,0.6,0.4,0.4,0.35,0.35,0.3,0.3,0.28,0.25,0.23,0.22,0.2,0.18,0.17,0.16,0.15,0.14,0.13,0.12,0.11,0.1,0.09,0.08,0.07,0.07,0.06,0.05,0.05,0.04,0.04,0.03,0.03,0.03,0.02,0.02,0.02,0.02,0.01,0.01,0.01,0.01,0.01,0.01,0.01,0.01,0.01,0.01,0.01],"h":[3.6,3.1,4,4,3.2,3.3,3,1.6,2.2,2.2,2.8,2.6,3,2.4,1.5,1.6,1.5,1.7,1.3,1.2,1.1,1.05,1,1,1,0.95,0.9,1,0.85,0.8,0.85,0.8,0.75,0.7,0.95,0.65,0.6,0.55,0.7,0.5,0.45,0.45,0.4,0.4,0.35,0.3,0.3,0.6,0.3,0.25,0.25,0.22,0.2,0.2,0.18,0.2,0.16,0.15,0.14,0.13,0.12]},
{"p":"e","g":"MRI","l":[2,1.8,1.7,2.2,1.7,1.7,1.4,1.4,1.2,1.1,0.7,0.6,0.55,0.5,0.4,0.38,0.35,0.32,0.3,0.28,0.26,0.24,0.22,0.2,0.18,0.17,0.15,0.14,0.13,0.12,0.11,0.1,0.09,0.08,0.08,0.07,0.06,0.06,0.05,0.05,0.04,0.04,0.03,0.03,0.03,0.02,0.02,0.02,0.02,0.02,0.01,0.01,0.01,0.01,0.01,0.01,0.01,0.01,0.01,0.01,0.01],"h":[3.9,3.5,3.4,3.8,3.2,3.3,2.8,3,2.9,3.2,2.2,2.2,2.1,1.8,1.7,2.2,1.6,1.4,1.3,1.2,1.2,1.1,1.2,1.1,1,0.95,0.9,0.9,0.85,0.75,0.7,0.7,0.7,0.65,0.8,0.55,0.5,0.5,0.6,0.45,0.4,0.4,0.38,0.35,0.32,0.3,0.28,0.26,0.24,0.22,0.2,0.2,0.18,0.17,0.16,0.15,0.14,0.13,0.12,0.12,0.11]},
{"p":"e","g":"VEG","l":[2.4,2,2.1,1.7,1.4,1.6,1.2,0.9,0.8,0.7,0.7,0.6,0.55,0.45,0.4,0.35,0.32,0.3,0.27,0.25,0.23,0.2,0.18,0.16,0.15,0.13,0.12,0.1,0.09,0.08,0.07,0.06,0.06,0.05,0.05,0.04,0.04,0.03,0.03,0.03,0.02,0.02,0.02,0.02,0.02,0.02,0.02,0.02,0.02,0.02,0.01,0.01,0.01,0.01,0.01,0.01,0.01,0.01,0.01,0.01,0.01],"h":[4.8,4,3.9,3.6,3.1,3.3,2.8,2.5,2.6,2.8,3,3.3,2.5,2.2,2.1,1.8,1.7,1.6,1.5,1.8,1.3,1.2,1.1,1.05,1,0.9,0.85,0.75,0.7,0.6,0.55,0.5,0.48,0.45,0.42,0.4,0.38,0.35,0.32,0.3,0.28,0.26,0.24,0.22,0.2,0.19,0.18,0.17,0.16,0.15,0.14,0.13,0.12,0.11,0.1,0.1,0.09,0.09,0.08,0.08,0.08]},
{"p":"f","g":"CNRM","l":[3,1.2,1.5,1.6,1.5,1.3,1,0.6,0.55,0.55,0.5,0.45,0.45,0.45,0.45,0.4,0.38,0.35,0.32,0.3,0.28,0.26,0.24,0.22,0.2,0.18,0.17,0.15,0.14,0.13,0.12,0.11,0.1,0.09,0.08,0.07,0.06,0.06,0.05,0.05,0.04,0.04,0.03,0.03,0.02,0.02,0.02,0.01,0.01,0.01,0.01,0.01,0.01,0.01,0.01,0.01,0.01,0.01,0.01,0.01,0],"h":[4.8,3.2,3.2,3.1,2.9,2.7,2.4,1.8,1.8,1.9,1.8,2,2.2,2.6,2.4,2.3,2.1,1.9,1.8,2,1.7,1.9,2.1,1.8,1.7,2,1.8,1.6,1.9,1.5,1.3,1.4,1.2,1.1,1.3,1,1.1,1.2,1,1.4,1.1,1.2,0.9,1,0.7,0.6,0.45,0.4,0.35,0.3,0.25,0.2,0.18,0.15,0.12,0.1,0.08,0.06,0.05,0.04,0.03]},
{"p":"f","g":"ECEarth3","l":[2,1.6,2.3,2.2,1.7,1.8,1.4,0.6,0.8,0.9,0.8,0.75,0.75,0.55,0.4,0.38,0.35,0.33,0.3,0.28,0.26,0.24,0.22,0.2,0.18,0.16,0.15,0.14,0.13,0.12,0.11,0.1,0.09,0.08,0.07,0.06,0.06,0.05,0.05,0.04,0.04,0.03,0.03,0.02,0.02,0.01,0.01,0.01,0,0,0,0,0,0,0,0,0,0,0,0,0],"h":[3.6,3.1,4,4,3.2,3.4,3,1.6,2.2,2.4,2.5,2.5,3,2.3,1.5,1.6,1.6,1.5,1.3,1.2,1.3,1.3,1.2,1.2,1.1,1,0.95,0.95,0.9,0.85,0.8,0.75,0.7,0.65,0.6,0.6,0.55,0.55,0.5,0.55,0.5,0.45,0.4,0.38,0.35,0.6,0.2,0.12,0.08,0.05,0.03,0.02,0.02,0.01,0.01,0.01,0.01,0,0,0,0]},
{"p":"f","g":"MRI","l":[2,1.8,1.8,2.2,1.7,1.7,1.4,1.4,1.2,1.1,0.7,0.6,0.5,0.45,0.38,0.35,0.32,0.3,0.27,0.25,0.23,0.21,0.19,0.17,0.15,0.14,0.12,0.11,0.1,0.09,0.08,0.07,0.06,0.06,0.05,0.04,0.04,0.03,0.03,0.02,0.02,0.01,0.01,0.01,0,0,0,0,0,0,0,0,0,0,0,0,0,0,0,0,0],"h":[3.8,3.4,3.5,3.8,3.2,3.4,2.8,3.1,3,3.4,2.3,2.3,2,1.8,1.6,2.3,1.7,1.4,1.3,1.2,1.2,1.1,1.2,1.05,1,0.9,0.85,0.9,0.8,0.7,0.75,0.65,0.6,0.55,0.6,0.5,0.45,0.4,0.35,0.3,0.25,0.22,0.2,0.18,0.15,0.12,0.1,0.08,0.06,0.05,0.04,0.03,0.03,0.02,0.02,0.01,0.01,0.01,0.01,0.01,0.01]},
{"p":"f","g":"VEG","l":[2.4,2,2.1,1.7,1.4,1.6,1.2,0.9,0.8,0.75,0.7,0.6,0.55,0.45,0.4,0.35,0.32,0.28,0.26,0.24,0.22,0.2,0.18,0.16,0.14,0.12,0.11,0.1,0.09,0.08,0.07,0.06,0.05,0.05,0.04,0.04,0.03,0.03,0.02,0.02,0.02,0.01,0.01,0.01,0.01,0.01,0.01,0.01,0.01,0.01,0,0,0,0,0,0,0,0,0,0,0],"h":[4.8,4,3.9,3.6,3.1,3.3,2.7,2.8,2.5,3,2.8,3.5,2.6,2.2,2,1.8,1.7,1.5,1.9,1.8,1.6,1.5,1.7,1.3,1.2,1.1,1,0.9,0.85,0.8,0.7,0.65,0.6,0.55,0.5,0.45,0.4,0.35,0.3,0.26,0.22,0.2,0.17,0.15,0.12,0.1,0.08,0.07,0.06,0.05,0.04,0.03,0.03,0.02,0.02,0.02,0.01,0.01,0.01,0.01,0.01]}
]
},
"vconcat": [
{"title": {"text": "Large", "orient": "left", "anchor": "middle", "fontSize": 35, "offset": 6},
 "spacing": 0,
 "resolve": {"scale": {"color": "independent"}, "legend": {"color": "independent"}},
 "hconcat": [
  {"width": 549, "height": 309, "title": {"text": "SSP126"},
   "layer": [
    {"data": {"name": "B"}, "transform": [{"filter": "datum.p === 'a'"}, {"flatten": ["l", "h"]}, {"window": [{"op": "row_number", "as": "i"}], "groupby": ["g"]}, {"lookup": "i", "from": {"data": {"name": "YB"}, "key": "i", "fields": ["y"]}}],
     "mark": {"type": "area", "opacity": 0.3},
     "encoding": {"x": {"field": "y", "type": "quantitative", "title": null, "scale": {"domain": [1980, 2100], "nice": false}, "axis": {"values": [1980,1990,2000,2010,2020,2030,2040,2050,2060,2070,2080,2090,2100], "tickCount": 20, "format": "d", "labelOverlap": false}},
      "y": {"field": "l", "type": "quantitative", "title": "Cumulative runoff (m³ sec⁻¹)", "scale": {"domain": [0, 600], "nice": false}, "axis": {"values": [0,50,100,150,200,250,300,350,400,450,500,550,600], "tickCount": 20, "format": "d", "labelOverlap": false}},
      "y2": {"field": "h"},
      "color": {"field": "g", "type": "nominal", "title": "GCMs", "scale": {"domain": ["CNRM", "ECEarth3", "MRI", "VEG"], "range": ["#F8766D", "#7CAE00", "#00BFC4", "#C77CFF"]}, "legend": {"encode": {"symbols": {"update": {"fillOpacity": {"value": 0.28}, "strokeOpacity": {"value": 1}, "opacity": {"value": 1}}}}}}}},
    {"data": {"name": "L"}, "transform": [{"filter": "datum.p === 'a'"}, {"flatten": ["v"]}, {"window": [{"op": "row_number", "as": "i"}], "groupby": ["g"]}, {"lookup": "i", "from": {"data": {"name": "YL"}, "key": "i", "fields": ["y"]}}],
     "mark": {"type": "line", "strokeWidth": 2},
     "encoding": {"x": {"field": "y", "type": "quantitative", "title": null, "axis": {"values": [1980,1990,2000,2010,2020,2030,2040,2050,2060,2070,2080,2090,2100], "tickCount": 20, "format": "d", "labelOverlap": false}}, "y": {"field": "v", "type": "quantitative", "title": "Cumulative runoff (m³ sec⁻¹)", "axis": {"values": [0,50,100,150,200,250,300,350,400,450,500,550,600], "tickCount": 20, "format": "d", "labelOverlap": false}}, "color": {"field": "g", "type": "nominal", "title": "GCMs", "legend": {"encode": {"symbols": {"update": {"fillOpacity": {"value": 0.28}, "strokeOpacity": {"value": 1}, "opacity": {"value": 1}}}}}}}},
    {"data": {"values": [{"t": "(a)"}]}, "mark": {"type": "text", "font": "Liberation Serif", "fontSize": 29, "color": "#111"}, "encoding": {"x": {"datum": 2036}, "y": {"datum": 540}, "text": {"field": "t"}}}
   ]},
  {"width": 549, "height": 309, "title": {"text": "SSP585"},
   "layer": [
    {"data": {"name": "B"}, "transform": [{"filter": "datum.p === 'b'"}, {"flatten": ["l", "h"]}, {"window": [{"op": "row_number", "as": "i"}], "groupby": ["g"]}, {"lookup": "i", "from": {"data": {"name": "YB"}, "key": "i", "fields": ["y"]}}],
     "mark": {"type": "area", "opacity": 0.3},
     "encoding": {"x": {"field": "y", "type": "quantitative", "title": null, "scale": {"domain": [1980, 2100], "nice": false}, "axis": {"values": [1980,1990,2000,2010,2020,2030,2040,2050,2060,2070,2080,2090,2100], "tickCount": 20, "format": "d", "labelOverlap": false}},
      "y": {"field": "l", "type": "quantitative", "title": null, "scale": {"domain": [0, 600], "nice": false}, "axis": {"values": [0,50,100,150,200,250,300,350,400,450,500,550,600], "tickCount": 20, "format": "d", "labelOverlap": false}},
      "y2": {"field": "h"},
      "color": {"field": "g", "type": "nominal", "title": "GCMs", "scale": {"domain": ["CNRM", "ECEarth3", "MRI", "VEG"], "range": ["#F8766D", "#7CAE00", "#00BFC4", "#C77CFF"]}, "legend": {"encode": {"symbols": {"update": {"fillOpacity": {"value": 0.28}, "strokeOpacity": {"value": 1}, "opacity": {"value": 1}}}}}}}},
    {"data": {"name": "L"}, "transform": [{"filter": "datum.p === 'b'"}, {"flatten": ["v"]}, {"window": [{"op": "row_number", "as": "i"}], "groupby": ["g"]}, {"lookup": "i", "from": {"data": {"name": "YL"}, "key": "i", "fields": ["y"]}}],
     "mark": {"type": "line", "strokeWidth": 2},
     "encoding": {"x": {"field": "y", "type": "quantitative", "title": null, "axis": {"values": [1980,1990,2000,2010,2020,2030,2040,2050,2060,2070,2080,2090,2100], "tickCount": 20, "format": "d", "labelOverlap": false}}, "y": {"field": "v", "type": "quantitative", "title": null, "axis": {"values": [0,50,100,150,200,250,300,350,400,450,500,550,600], "tickCount": 20, "format": "d", "labelOverlap": false}}, "color": {"field": "g", "type": "nominal", "title": "GCMs", "legend": {"encode": {"symbols": {"update": {"fillOpacity": {"value": 0.28}, "strokeOpacity": {"value": 1}, "opacity": {"value": 1}}}}}}}},
    {"data": {"values": [{"t": "(b)"}]}, "mark": {"type": "text", "font": "Liberation Serif", "fontSize": 29, "color": "#111"}, "encoding": {"x": {"datum": 2035}, "y": {"datum": 540}, "text": {"field": "t"}}}
   ]}
 ]},
{"title": {"text": "Medium", "orient": "left", "anchor": "middle", "fontSize": 35, "offset": 6},
 "spacing": 0,
 "resolve": {"scale": {"color": "independent"}, "legend": {"color": "independent"}},
 "hconcat": [
  {"width": 549, "height": 309,
   "layer": [
    {"data": {"name": "B"}, "transform": [{"filter": "datum.p === 'c'"}, {"flatten": ["l", "h"]}, {"window": [{"op": "row_number", "as": "i"}], "groupby": ["g"]}, {"lookup": "i", "from": {"data": {"name": "YB"}, "key": "i", "fields": ["y"]}}],
     "mark": {"type": "area", "opacity": 0.3},
     "encoding": {"x": {"field": "y", "type": "quantitative", "title": null, "scale": {"domain": [1980, 2100], "nice": false}, "axis": {"values": [1980,1990,2000,2010,2020,2030,2040,2050,2060,2070,2080,2090,2100], "tickCount": 20, "format": "d", "labelOverlap": false}},
      "y": {"field": "l", "type": "quantitative", "title": "Cumulative runoff (m³ sec⁻¹)", "scale": {"domain": [0, 50], "nice": false}, "axis": {"values": [0,10,20,30,40,50], "tickCount": 20, "format": "d", "labelOverlap": false}},
      "y2": {"field": "h"},
      "color": {"field": "g", "type": "nominal", "title": "GCMs", "scale": {"domain": ["CNRM", "ECEarth3", "MRI", "VEG"], "range": ["#F8766D", "#7CAE00", "#00BFC4", "#C77CFF"]}, "legend": {"encode": {"symbols": {"update": {"fillOpacity": {"value": 0.28}, "strokeOpacity": {"value": 1}, "opacity": {"value": 1}}}}}}}},
    {"data": {"name": "L"}, "transform": [{"filter": "datum.p === 'c'"}, {"flatten": ["v"]}, {"window": [{"op": "row_number", "as": "i"}], "groupby": ["g"]}, {"lookup": "i", "from": {"data": {"name": "YL"}, "key": "i", "fields": ["y"]}}],
     "mark": {"type": "line", "strokeWidth": 2},
     "encoding": {"x": {"field": "y", "type": "quantitative", "title": null, "axis": {"values": [1980,1990,2000,2010,2020,2030,2040,2050,2060,2070,2080,2090,2100], "tickCount": 20, "format": "d", "labelOverlap": false}}, "y": {"field": "v", "type": "quantitative", "title": "Cumulative runoff (m³ sec⁻¹)", "axis": {"values": [0,10,20,30,40,50], "tickCount": 20, "format": "d", "labelOverlap": false}}, "color": {"field": "g", "type": "nominal", "title": "GCMs", "legend": {"encode": {"symbols": {"update": {"fillOpacity": {"value": 0.28}, "strokeOpacity": {"value": 1}, "opacity": {"value": 1}}}}}}}},
    {"data": {"values": [{"t": "(c)"}]}, "mark": {"type": "text", "font": "Liberation Serif", "fontSize": 29, "color": "#111"}, "encoding": {"x": {"datum": 2038}, "y": {"datum": 45.3}, "text": {"field": "t"}}}
   ]},
  {"width": 549, "height": 309,
   "layer": [
    {"data": {"name": "B"}, "transform": [{"filter": "datum.p === 'd'"}, {"flatten": ["l", "h"]}, {"window": [{"op": "row_number", "as": "i"}], "groupby": ["g"]}, {"lookup": "i", "from": {"data": {"name": "YB"}, "key": "i", "fields": ["y"]}}],
     "mark": {"type": "area", "opacity": 0.3},
     "encoding": {"x": {"field": "y", "type": "quantitative", "title": null, "scale": {"domain": [1980, 2100], "nice": false}, "axis": {"values": [1980,1990,2000,2010,2020,2030,2040,2050,2060,2070,2080,2090,2100], "tickCount": 20, "format": "d", "labelOverlap": false}},
      "y": {"field": "l", "type": "quantitative", "title": null, "scale": {"domain": [0, 50], "nice": false}, "axis": {"values": [0,10,20,30,40,50], "tickCount": 20, "format": "d", "labelOverlap": false}},
      "y2": {"field": "h"},
      "color": {"field": "g", "type": "nominal", "title": "GCMs", "scale": {"domain": ["CNRM", "ECEarth3", "MRI", "VEG"], "range": ["#F8766D", "#7CAE00", "#00BFC4", "#C77CFF"]}, "legend": {"encode": {"symbols": {"update": {"fillOpacity": {"value": 0.28}, "strokeOpacity": {"value": 1}, "opacity": {"value": 1}}}}}}}},
    {"data": {"name": "L"}, "transform": [{"filter": "datum.p === 'd'"}, {"flatten": ["v"]}, {"window": [{"op": "row_number", "as": "i"}], "groupby": ["g"]}, {"lookup": "i", "from": {"data": {"name": "YL"}, "key": "i", "fields": ["y"]}}],
     "mark": {"type": "line", "strokeWidth": 2},
     "encoding": {"x": {"field": "y", "type": "quantitative", "title": null, "axis": {"values": [1980,1990,2000,2010,2020,2030,2040,2050,2060,2070,2080,2090,2100], "tickCount": 20, "format": "d", "labelOverlap": false}}, "y": {"field": "v", "type": "quantitative", "title": null, "axis": {"values": [0,10,20,30,40,50], "tickCount": 20, "format": "d", "labelOverlap": false}}, "color": {"field": "g", "type": "nominal", "title": "GCMs", "legend": {"encode": {"symbols": {"update": {"fillOpacity": {"value": 0.28}, "strokeOpacity": {"value": 1}, "opacity": {"value": 1}}}}}}}},
    {"data": {"values": [{"t": "(d)"}]}, "mark": {"type": "text", "font": "Liberation Serif", "fontSize": 29, "color": "#111"}, "encoding": {"x": {"datum": 2037}, "y": {"datum": 45.3}, "text": {"field": "t"}}}
   ]}
 ]},
{"title": {"text": "Small", "orient": "left", "anchor": "middle", "fontSize": 35, "offset": 6},
 "spacing": 0,
 "resolve": {"scale": {"color": "independent"}, "legend": {"color": "independent"}},
 "hconcat": [
  {"width": 549, "height": 309,
   "layer": [
    {"data": {"name": "B"}, "transform": [{"filter": "datum.p === 'e'"}, {"flatten": ["l", "h"]}, {"window": [{"op": "row_number", "as": "i"}], "groupby": ["g"]}, {"lookup": "i", "from": {"data": {"name": "YB"}, "key": "i", "fields": ["y"]}}],
     "mark": {"type": "area", "opacity": 0.3},
     "encoding": {"x": {"field": "y", "type": "quantitative", "title": null, "scale": {"domain": [1980, 2100], "nice": false}, "axis": {"values": [1980,1990,2000,2010,2020,2030,2040,2050,2060,2070,2080,2090,2100], "tickCount": 20, "format": "d", "labelOverlap": false}},
      "y": {"field": "l", "type": "quantitative", "title": "Cumulative runoff (m³ sec⁻¹)", "scale": {"domain": [0, 6], "nice": false}, "axis": {"values": [0,1,2,3,4,5,6], "tickCount": 20, "format": "d", "labelOverlap": false}},
      "y2": {"field": "h"},
      "color": {"field": "g", "type": "nominal", "title": "GCMs", "scale": {"domain": ["CNRM", "ECEarth3", "MRI", "VEG"], "range": ["#F8766D", "#7CAE00", "#00BFC4", "#C77CFF"]}, "legend": {"encode": {"symbols": {"update": {"fillOpacity": {"value": 0.28}, "strokeOpacity": {"value": 1}, "opacity": {"value": 1}}}}}}}},
    {"data": {"name": "L"}, "transform": [{"filter": "datum.p === 'e'"}, {"flatten": ["v"]}, {"window": [{"op": "row_number", "as": "i"}], "groupby": ["g"]}, {"lookup": "i", "from": {"data": {"name": "YL"}, "key": "i", "fields": ["y"]}}],
     "mark": {"type": "line", "strokeWidth": 2},
     "encoding": {"x": {"field": "y", "type": "quantitative", "title": null, "axis": {"values": [1980,1990,2000,2010,2020,2030,2040,2050,2060,2070,2080,2090,2100], "tickCount": 20, "format": "d", "labelOverlap": false}}, "y": {"field": "v", "type": "quantitative", "title": "Cumulative runoff (m³ sec⁻¹)", "axis": {"values": [0,1,2,3,4,5,6], "tickCount": 20, "format": "d", "labelOverlap": false}}, "color": {"field": "g", "type": "nominal", "title": "GCMs", "legend": {"encode": {"symbols": {"update": {"fillOpacity": {"value": 0.28}, "strokeOpacity": {"value": 1}, "opacity": {"value": 1}}}}}}}},
    {"data": {"values": [{"t": "(e)"}]}, "mark": {"type": "text", "font": "Liberation Serif", "fontSize": 29, "color": "#111"}, "encoding": {"x": {"datum": 2038}, "y": {"datum": 5.38}, "text": {"field": "t"}}}
   ]},
  {"width": 549, "height": 309,
   "layer": [
    {"data": {"name": "B"}, "transform": [{"filter": "datum.p === 'f'"}, {"flatten": ["l", "h"]}, {"window": [{"op": "row_number", "as": "i"}], "groupby": ["g"]}, {"lookup": "i", "from": {"data": {"name": "YB"}, "key": "i", "fields": ["y"]}}],
     "mark": {"type": "area", "opacity": 0.3},
     "encoding": {"x": {"field": "y", "type": "quantitative", "title": null, "scale": {"domain": [1980, 2100], "nice": false}, "axis": {"values": [1980,1990,2000,2010,2020,2030,2040,2050,2060,2070,2080,2090,2100], "tickCount": 20, "format": "d", "labelOverlap": false}},
      "y": {"field": "l", "type": "quantitative", "title": null, "scale": {"domain": [0, 6], "nice": false}, "axis": {"values": [0,1,2,3,4,5,6], "tickCount": 20, "format": "d", "labelOverlap": false}},
      "y2": {"field": "h"},
      "color": {"field": "g", "type": "nominal", "title": "GCMs", "scale": {"domain": ["CNRM", "ECEarth3", "MRI", "VEG"], "range": ["#F8766D", "#7CAE00", "#00BFC4", "#C77CFF"]}, "legend": {"encode": {"symbols": {"update": {"fillOpacity": {"value": 0.28}, "strokeOpacity": {"value": 1}, "opacity": {"value": 1}}}}}}}},
    {"data": {"name": "L"}, "transform": [{"filter": "datum.p === 'f'"}, {"flatten": ["v"]}, {"window": [{"op": "row_number", "as": "i"}], "groupby": ["g"]}, {"lookup": "i", "from": {"data": {"name": "YL"}, "key": "i", "fields": ["y"]}}],
     "mark": {"type": "line", "strokeWidth": 2},
     "encoding": {"x": {"field": "y", "type": "quantitative", "title": null, "axis": {"values": [1980,1990,2000,2010,2020,2030,2040,2050,2060,2070,2080,2090,2100], "tickCount": 20, "format": "d", "labelOverlap": false}}, "y": {"field": "v", "type": "quantitative", "title": null, "axis": {"values": [0,1,2,3,4,5,6], "tickCount": 20, "format": "d", "labelOverlap": false}}, "color": {"field": "g", "type": "nominal", "title": "GCMs", "legend": {"encode": {"symbols": {"update": {"fillOpacity": {"value": 0.28}, "strokeOpacity": {"value": 1}, "opacity": {"value": 1}}}}}}}},
    {"data": {"values": [{"t": "(f)"}]}, "mark": {"type": "text", "font": "Liberation Serif", "fontSize": 29, "color": "#111"}, "encoding": {"x": {"datum": 2034}, "y": {"datum": 5.44}, "text": {"field": "t"}}}
   ]}
 ]}
],
"spacing": 6,
"resolve": {"scale": {"color": "independent"}, "legend": {"color": "independent"}},
"config": {
 "font": "Liberation Sans",
 "view": {"stroke": "#8a8a8a", "strokeWidth": 1},
 "axis": {"grid": false, "labelFont": "Liberation Sans", "labelFontSize": 13.5, "labelColor": "#222", "labelOverlap": false, "labelFlush": false, "domainColor": "#222", "tickColor": "#222", "tickSize": 4, "labelPadding": 2, "titleFont": "Liberation Sans", "titleFontSize": 20, "titleFontWeight": "normal", "titleColor": "#222", "titlePadding": 6},
 "legend": {"orient": "top-right", "offset": 9, "padding": 4, "titleFont": "Liberation Sans", "titleFontSize": 15, "titleFontWeight": "normal", "titleColor": "#222", "labelFont": "Liberation Sans", "labelFontSize": 14, "labelColor": "#222", "symbolType": "M-1,0H1V-0.75H-1V0.75H1V0", "symbolStrokeWidth": 2.5, "symbolSize": 289, "symbolDash": [17, 300], "symbolOpacity": 1, "rowPadding": -5, "titlePadding": 7},
 "title": {"font": "Liberation Serif", "fontSize": 34, "fontWeight": "normal", "color": "#111", "offset": 8}
}
}
